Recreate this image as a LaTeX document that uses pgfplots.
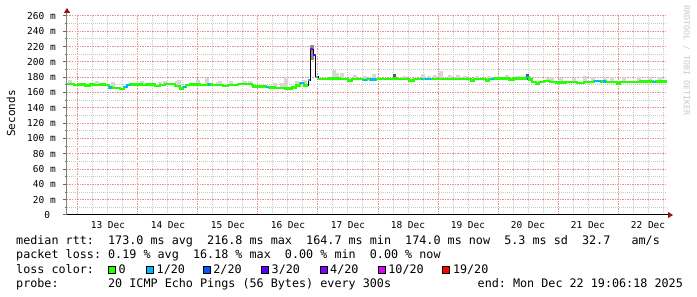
\documentclass[border=0pt]{standalone}
\usepackage{pgfplots}
\usepackage{pgfplotstable}
\pgfplotsset{compat=1.18}
\usepackage{fontspec}
\setmainfont{DejaVu Sans Mono}
\usetikzlibrary{arrows.meta}
\definecolor{mgrid}{RGB}{230,145,145}
\definecolor{sgrid}{RGB}{200,200,200}
\definecolor{arrowred}{RGB}{150,20,20}
\definecolor{loss0}{HTML}{26FF00}
\definecolor{loss1}{HTML}{00B8FF}
\definecolor{loss2}{HTML}{0059FF}
\definecolor{loss3}{HTML}{5E00FF}
\definecolor{loss4}{HTML}{7E00FF}
\definecolor{loss10}{HTML}{DD00FF}
\definecolor{loss19}{HTML}{FF0000}
\definecolor{smoke}{RGB}{215,215,215}
\definecolor{wm}{RGB}{200,200,200}
\newcommand\legfont{\fontsize{11.75}{14}\selectfont}
\frenchspacing

% median rtt (day of December, ms), green part before the spike
\pgfplotstableread{
x y
12.817 171
12.933 169.5
13.017 170.7
13.117 169
13.200 170.5
13.267 170
13.367 170.3
13.450 170
13.517 166.8
13.567 166
13.700 165
13.767 167.5
13.817 170
13.867 170.5
14.067 169.5
14.133 170.5
14.283 168.5
14.367 170
14.450 171
14.617 168.5
14.700 165.5
14.750 167.6
14.800 170
14.867 170.5
15.033 170
15.167 170.5
15.233 170
15.417 168.5
15.500 170
15.667 171
15.900 170
15.917 167.7
16.133 167
16.183 166.5
16.283 166
16.450 165.5
16.567 166.5
16.633 169
16.700 172.8
16.767 169
16.833 169
}\medA
% spike
\pgfplotstableread{
x y
16.833 169
16.833 176.5
16.872 216.8
16.925 209
16.962 180.5
17.000 180.5
17.000 177.7
}\medS
% after the spike
\pgfplotstableread{
x y
17.000 177.7
17.200 178.2
17.367 177.5
17.500 175.5
17.567 177.5
17.750 176.5
17.817 177.5
17.867 177
17.967 177.5
18.250 178.5
18.300 177.8
18.517 175.5
18.600 177.5
19.083 178
19.283 177.5
19.550 175.5
19.600 177.5
19.800 175.5
19.850 177.5
19.883 178
19.933 178.5
20.183 177.2
20.267 178.5
20.467 180
20.517 177
20.567 174
20.633 172
20.683 174
20.767 175
20.867 174
20.967 173
21.133 174
21.317 172.5
21.433 174
21.600 175
21.717 174
21.750 174.5
21.800 174
21.983 172
22.033 174
22.367 174.5
22.583 174
22.633 174.5
22.817 174.5
}\medB

\begin{document}
\begin{tikzpicture}
\useasboundingbox (0pt,0pt) rectangle (697pt,297pt);
\begin{axis}[
  at={(67pt,82pt)}, anchor=south west,
  scale only axis, width=600pt, height=199pt,
  xmin=12.8167, xmax=22.8167, ymin=0, ymax=260,
  axis lines=left,
  x axis line style={black, line width=1pt, shorten >=-6pt, -{Triangle[length=5pt,width=6pt,color=arrowred]}},
  y axis line style={black!50, line width=1pt, shorten >=-8pt, -{Triangle[length=5pt,width=6pt,color=arrowred]}},
  xtick={13,...,22}, xticklabels={,,,,,,,,,},
  minor xtick={13.25,13.5,13.75,14.25,14.5,14.75,15.25,15.5,15.75,16.25,16.5,16.75,17.25,17.5,17.75,18.25,18.5,18.75,19.25,19.5,19.75,20.25,20.5,20.75,21.25,21.5,21.75,22.25,22.5,22.75},
  extra x ticks={13.5,14.5,...,22.5},
  extra x tick labels={13 Dec,14 Dec,15 Dec,16 Dec,17 Dec,18 Dec,19 Dec,20 Dec,21 Dec,22 Dec},
  extra x tick style={grid=none, major tick length=0pt},
  xtick style={draw=none},
  ytick={0,20,...,260},
  yticklabels={0~~,20 m,40 m,60 m,80 m,100 m,120 m,140 m,160 m,180 m,200 m,220 m,240 m,260 m},
  minor ytick={10,30,...,250},
  ytick align=outside,
  ytick style={black!60, line width=1pt},
  major tick length=4pt, minor tick length=2pt,
  grid=both,
  major grid style={mgrid, line width=1pt, dash pattern=on 1.5pt off 1pt},
  minor grid style={sgrid, line width=1pt, dash pattern=on 1pt off 1pt},
  tick label style={font=\fontsize{9.5}{11}\selectfont, inner sep=0pt, text=black},
  xticklabel style={anchor=north, yshift=-6pt},
  yticklabel style={anchor=east, xshift=-7pt},
  unbounded coords=jump,
]
% smoke (spread of the pings)
\addplot[smoke, line width=4pt, line cap=butt, forget plot] coordinates {
(12.867,170)(12.867,176.4)(12.867,nan)
(13.067,169.5)(13.067,173)(13.067,nan)
(13.325,169.5)(13.325,175.5)(13.325,nan)
(13.408,169.5)(13.408,173)(13.408,nan)
(13.583,166)(13.583,174)(13.583,nan)
(14.067,169.5)(14.067,175.5)(14.067,nan)
(14.375,169.5)(14.375,173.5)(14.375,nan)
(14.450,170)(14.450,175)(14.450,nan)
(14.658,168)(14.658,175)(14.658,nan)
(14.683,166)(14.683,176.4)(14.683,nan)
(15.000,169.5)(15.000,177)(15.000,nan)
(15.158,170)(15.158,179.5)(15.158,nan)
(15.333,169.5)(15.333,173.5)(15.333,nan)
(15.375,169.5)(15.375,175)(15.375,nan)
(15.550,170)(15.550,174.5)(15.550,nan)
(15.783,170.5)(15.783,174.5)(15.783,nan)
(15.867,170.5)(15.867,175)(15.867,nan)
(16.283,166)(16.283,173)(16.283,nan)
(16.392,165.5)(16.392,172)(16.392,nan)
(16.475,165.5)(16.475,180)(16.475,nan)
(16.642,168.5)(16.642,174.5)(16.642,nan)
(16.783,168.5)(16.783,177)(16.783,nan)
(17.275,177)(17.275,190)(17.275,nan)
(17.317,177)(17.317,185)(17.317,nan)
(17.408,177)(17.408,186)(17.408,nan)
(17.625,176.5)(17.625,183)(17.625,nan)
(17.775,176)(17.775,181)(17.775,nan)
(17.925,176.5)(17.925,184)(17.925,nan)
(18.450,177)(18.450,181)(18.450,nan)
(18.742,177)(18.742,184)(18.742,nan)
(18.842,177)(18.842,181)(18.842,nan)
(18.950,177)(18.950,183)(18.950,nan)
(19.058,177)(19.058,188)(19.058,nan)
(19.200,177)(19.200,183)(19.200,nan)
(19.333,177)(19.333,183)(19.333,nan)
(19.450,177)(19.450,182)(19.450,nan)
(19.650,177)(19.650,181)(19.650,nan)
(19.850,177)(19.850,182)(19.850,nan)
(20.158,177)(20.158,183)(20.158,nan)
(20.325,177)(20.325,181)(20.325,nan)
(20.825,174)(20.825,178.6)(20.825,nan)
(20.908,173.5)(20.908,179.8)(20.908,nan)
(21.058,173)(21.058,178.6)(21.058,nan)
(21.267,172.5)(21.267,178.6)(21.267,nan)
(21.442,173.5)(21.442,181.6)(21.442,nan)
(21.575,174)(21.575,180)(21.575,nan)
(21.783,174)(21.783,180.7)(21.783,nan)
(21.892,174)(21.892,180)(21.892,nan)
(22.092,174)(22.092,180)(22.092,nan)
(22.342,174)(22.342,180)(22.342,nan)
(22.533,174)(22.533,180)(22.533,nan)
(22.700,174)(22.700,180.7)
};
\addplot[black!45, line width=4pt, line cap=butt, forget plot] coordinates {(16.908,202)(16.908,222)};
\addplot[black!65, line width=3pt, line cap=butt, forget plot] coordinates {
(18.275,177)(18.275,184)(18.275,nan)
(20.492,177)(20.492,184)};
% thin black median
\addplot[black, line width=0.8pt, const plot, forget plot] table {\medA};
\addplot[black, line width=0.8pt, const plot, forget plot] table {\medS};
\addplot[black, line width=0.8pt, const plot, forget plot] table {\medB};
% loss 0
\addplot[loss0, line width=2.4pt, const plot, forget plot] table {\medA};
\addplot[loss0, line width=2.4pt, const plot, forget plot] table {\medB};
% loss 1/20
\addplot[loss1, line width=2.4pt, forget plot] coordinates {
(13.517,166.8)(13.567,166.8)(13.567,nan)
(13.767,167.5)(13.817,167.5)(13.817,170)(13.867,170)(13.867,nan)
(14.750,167.6)(14.800,167.6)(14.800,nan)
(15.167,170.5)(15.200,170.5)(15.200,nan)
(16.133,167)(16.183,167)(16.183,nan)
(16.700,172.8)(16.767,172.8)(16.767,nan)
(16.833,176.5)(16.872,176.5)(16.872,nan)
(16.962,180.5)(17.000,180.5)(17.000,nan)
(17.750,176.5)(17.817,176.5)(17.817,nan)
(17.867,177)(17.967,177)(17.967,nan)
(18.717,177.7)(18.750,177.7)(18.750,nan)
(18.783,177.7)(18.883,177.7)(18.883,nan)
(19.883,178)(19.933,178)(19.933,nan)
(20.467,180)(20.517,180)(20.517,nan)
(21.600,175)(21.717,175)(21.717,nan)
(21.750,174.5)(21.800,174.5)(21.800,nan)
(22.583,174)(22.633,174)
};
% loss 3/20 and 4/20
\addplot[loss4, line width=2.4pt, forget plot] coordinates {(16.872,216.8)(16.925,216.8)};
\addplot[loss3, line width=2.4pt, forget plot] coordinates {(16.925,209)(16.962,209)};
\end{axis}

% y-axis title and watermark
\node[rotate=90, inner sep=0pt, font=\fontsize{11}{13}\selectfont] at (11pt,183.5pt) {Seconds};
\node[rotate=-90, anchor=west, inner sep=0pt, text=wm, font=\fontsize{8.3}{10}\selectfont] at (686.5pt,292pt) {RRDTOOL~/~TOBI~OETIKER};

% legend lines
\node[anchor=base west, inner sep=0pt, font=\legfont] at (16pt,52pt) {median~rtt:~~173.0~ms~avg~~216.8~ms~max~~164.7~ms~min~~174.0~ms~now~~5.3~ms~sd~~32.7~~~am/s};
\node[anchor=base west, inner sep=0pt, font=\legfont] at (16pt,38pt) {packet~loss:~0.19~\%~avg~~16.18~\%~max~~0.00~\%~min~~0.00~\%~now};
\node[anchor=base west, inner sep=0pt, font=\legfont] at (16pt,23.7pt) {loss~color:};
\foreach \bx/\col/\lab in {108/loss0/{0}, 146/loss1/{1/20}, 202.7/loss2/{2/20}, 261/loss3/{3/20}, 319.5/loss4/{4/20}, 377.7/loss10/{10/20}, 442.3/loss19/{19/20}}{
  \node[draw=black, line width=0.8pt, fill=\col, minimum size=7pt, inner sep=0pt] at (\bx pt+4pt,27.5pt) {};
  \node[anchor=base west, inner sep=0pt, font=\legfont] at (\bx pt+10.5pt,23.7pt) {\lab};
}
\node[anchor=base west, inner sep=0pt, font=\legfont] at (16pt,9pt) {probe:~~~~~~~20~ICMP~Echo~Pings~(56~Bytes)~every~300s};
\node[anchor=base west, inner sep=0pt, font=\legfont] at (477.5pt,9pt) {end:~Mon~Dec~22~19:06:18~2025};
\end{tikzpicture}
\end{document}
